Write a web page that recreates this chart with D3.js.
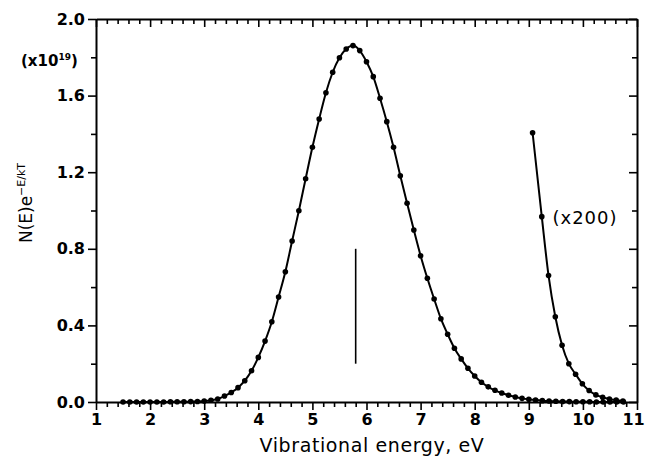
<!DOCTYPE html>
<html><head><meta charset="utf-8">
<script src="https://cdn.jsdelivr.net/npm/d3@7"></script>
<style>
html,body{margin:0;padding:0;background:#fff;}
svg{display:block;}
text{fill:#000;}
</style></head>
<body>
<svg id="chart" width="647" height="467"></svg>
<script>
// ---- data ----
const mainE = [1.5,1.625,1.75,1.875,2,2.125,2.25,2.375,2.5,2.625,2.75,2.875,3,3.125,3.25,3.375,3.5,3.625,3.75,3.875,4,4.125,4.25,4.375,4.5,4.625,4.75,4.875,5,5.125,5.25,5.375,5.5,5.625,5.75,5.875,6,6.125,6.25,6.375,6.5,6.625,6.75,6.875,7,7.125,7.25,7.375,7.5,7.625,7.75,7.875,8,8.125,8.25,8.375,8.5,8.625,8.75,8.875,9,9.125,9.25,9.375,9.5,9.625,9.75,9.875,10,10.125,10.25,10.375,10.5,10.625,10.75];
const mainV = [0.000,0.000,0.000,0.000,0.000,0.000,0.000,0.001,0.001,0.001,0.002,0.003,0.005,0.009,0.016,0.031,0.050,0.075,0.111,0.163,0.233,0.318,0.419,0.548,0.680,0.841,0.999,1.166,1.330,1.478,1.615,1.722,1.798,1.843,1.861,1.835,1.777,1.699,1.586,1.464,1.330,1.181,1.038,0.898,0.764,0.646,0.538,0.435,0.354,0.281,0.225,0.176,0.136,0.103,0.079,0.061,0.047,0.035,0.026,0.019,0.014,0.010,0.007,0.005,0.004,0.003,0.002,0.001,0.001,0.001,0.000,0.000,0.000,0.000,0.000];
const tailE = [9.07,9.24,9.365,9.49,9.615,9.74,9.865,9.99,10.115,10.24,10.365,10.49,10.615,10.74];
const tailV = [1.406,0.968,0.660,0.445,0.296,0.200,0.145,0.095,0.060,0.037,0.025,0.016,0.010,0.005];
const markerE = 5.8;
const markerV = [0.2, 0.8];
const xTickValues = [1,2,3,4,5,6,7,8,9,10,11];
const xTickLabels = ["1","2","3","4","5","6","7","8","9","10","11"];
const yTickValues = [0,0.4,0.8,1.2,1.6,2.0];
const yTickLabels = ["0.0","0.4","0.8","1.2","1.6","2.0"];
const xMinor = [1.2,1.4,1.6,1.8,2.2,2.4,2.6,2.8,3.2,3.4,3.6,3.8,4.2,4.4,4.6,4.8,5.2,5.4,5.6,5.8,6.2,6.4,6.6,6.8,7.2,7.4,7.6,7.8,8.2,8.4,8.6,8.8,9.2,9.4,9.6,9.8,10.2,10.4,10.6,10.8];
const yMinor = [0.2,0.6,1.0,1.4,1.8];
const xLabel = "Vibrational energy, eV";
const tailLabel = "(x200)";

// ---- layout ----
const svg = d3.select("#chart");
const L = 96, R = 637, T = 19, B = 402;
const x = d3.scaleLinear().domain([1, 11]).range([L, R]);
const y = d3.scaleLinear().domain([0, 2]).range([B, T]);
const font = "'DejaVu Sans', sans-serif";

function styleAxis(g) {
  g.selectAll("path.domain").attr("stroke", "#000").attr("stroke-width", 2);
  g.selectAll(".tick line").attr("stroke", "#000").attr("stroke-width", 1.6);
}

// bottom (outward ticks)
const gB = svg.append("g").attr("transform", `translate(0,${B})`)
  .call(d3.axisBottom(x).tickValues(xTickValues).tickSize(8).tickSizeOuter(0).tickPadding(4)
    .tickFormat((d,i) => xTickLabels[i]));
gB.selectAll("text").attr("font-family", font).attr("font-size", 16).attr("font-weight", "bold");
// keep the last label ("11") inside the picture edge
gB.selectAll(".tick").filter(d => d === 11).select("text").attr("dx", -4);
svg.append("g").attr("transform", `translate(0,${B})`)
  .call(d3.axisBottom(x).tickValues(xMinor).tickSize(5).tickSizeOuter(0).tickFormat(""))
  .call(g => g.select(".domain").remove()).call(styleAxis);
styleAxis(gB);

// top (inward ticks)
const gT = svg.append("g").attr("transform", `translate(0,${T})`)
  .call(d3.axisBottom(x).tickValues(xTickValues).tickSize(8).tickSizeOuter(0).tickFormat(""));
svg.append("g").attr("transform", `translate(0,${T})`)
  .call(d3.axisBottom(x).tickValues(xMinor).tickSize(5).tickSizeOuter(0).tickFormat(""))
  .call(g => g.select(".domain").remove()).call(styleAxis);
styleAxis(gT);

// left (outward ticks)
const gL = svg.append("g").attr("transform", `translate(${L},0)`)
  .call(d3.axisLeft(y).tickValues(yTickValues).tickSize(8).tickSizeOuter(0).tickPadding(3)
    .tickFormat((d,i) => yTickLabels[i]));
gL.selectAll("text").attr("font-family", font).attr("font-size", 16).attr("font-weight", "bold");
svg.append("g").attr("transform", `translate(${L},0)`)
  .call(d3.axisLeft(y).tickValues(yMinor).tickSize(5).tickSizeOuter(0).tickFormat(""))
  .call(g => g.select(".domain").remove()).call(styleAxis);
styleAxis(gL);

// right (inward ticks)
const gR = svg.append("g").attr("transform", `translate(${R},0)`)
  .call(d3.axisLeft(y).tickValues(yTickValues).tickSize(8).tickSizeOuter(0).tickFormat(""));
svg.append("g").attr("transform", `translate(${R},0)`)
  .call(d3.axisLeft(y).tickValues(yMinor).tickSize(5).tickSizeOuter(0).tickFormat(""))
  .call(g => g.select(".domain").remove()).call(styleAxis);
styleAxis(gR);

// ---- series ----
const mainData = mainE.map((e, i) => ({e, v: mainV[i]}));
const tailData = tailE.map((e, i) => ({e, v: tailV[i]}));
const line = d3.line().x(d => x(d.e)).y(d => y(d.v)).curve(d3.curveMonotoneX);

[mainData, tailData].forEach(data => {
  svg.append("path").datum(data).attr("d", line)
    .attr("fill", "none").attr("stroke", "#000").attr("stroke-width", 2);
  svg.append("g").selectAll("circle").data(data).join("circle")
    .attr("cx", d => x(d.e)).attr("cy", d => y(d.v)).attr("r", 2.8).attr("fill", "#000");
});

// marker line
svg.append("line")
  .attr("x1", x(markerE)).attr("x2", x(markerE))
  .attr("y1", y(markerV[0])).attr("y2", y(markerV[1]))
  .attr("stroke", "#000").attr("stroke-width", 1.6);

// ---- texts ----
svg.append("text").attr("x", 585).attr("y", 224).attr("text-anchor", "middle")
  .attr("font-family", font).attr("font-size", 18).attr("letter-spacing", 1)
  .text(tailLabel);

const sc = svg.append("text").attr("x", 21).attr("y", 66)
  .attr("font-family", font).attr("font-size", 15).attr("font-weight", "bold");
sc.append("tspan").text("(x10");
sc.append("tspan").attr("font-size", 9).attr("dy", -6).text("19");
sc.append("tspan").attr("dy", 6).text(")");

svg.append("text").attr("x", 372).attr("y", 452).attr("text-anchor", "middle")
  .attr("font-family", font).attr("font-size", 19).attr("letter-spacing", 0.6)
  .text(xLabel);

const yl = svg.append("text")
  .attr("transform", "translate(32,203) rotate(-90)")
  .attr("text-anchor", "middle")
  .attr("font-family", font).attr("font-size", 17);
yl.append("tspan").text("N(E)e");
yl.append("tspan").attr("font-size", 11).attr("dy", -7).text("\u2212E/kT");
</script>
</body></html>
